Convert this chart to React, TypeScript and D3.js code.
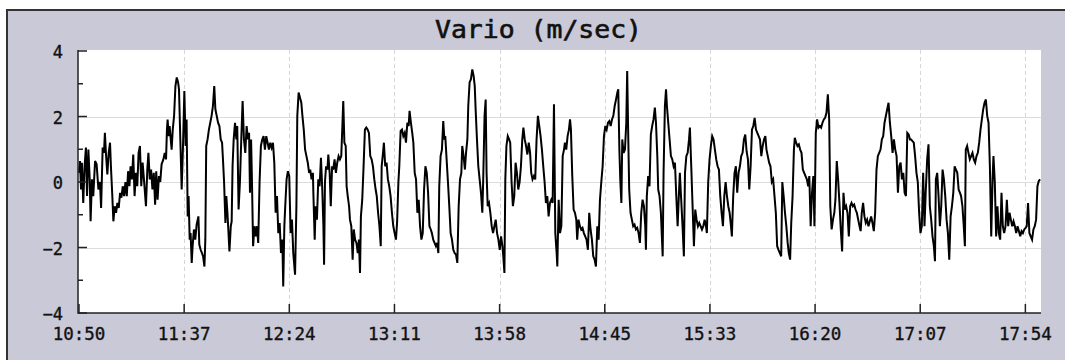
import React, { useEffect, useRef } from "react";
import * as d3 from "d3";

// tick labels on the time axis, 10:50 .. 17:54 (uniform step)
const timeLabels = ["10:50", "11:37", "12:24", "13:11", "13:58", "14:45", "15:33", "16:20", "17:07", "17:54"];
const timeSpan = 431; // minutes shown after 10:50
const lastTick = 424; // 17:54
const yMajor = [-4, -2, 0, 2, 4];
const yMinor = [-3, -1, 1, 3];
const yGrid = [-2, 0, 2];

// vario trace: [minutes after 10:50, m/s]
const trace: [number, number][] = [
  [0.0, 0.28], [0.45, 0.64], [0.9, -0.23], [1.3, 0.59], [1.9, -0.64], [2.5, 0.48], [3.1, 1.05], [3.6, -0.43],
  [4.2, 0.99], [4.8, 0.08], [5.2, -1.2], [5.8, 0.08], [6.4, -0.43], [7.2, 0.64], [7.9, 0.54], [8.7, -0.23],
  [9.4, 0], [9.9, -0.79], [10.6, 1.05], [11.2, 0.89], [11.6, 1.5], [12.1, 0.84], [12.7, 0.23], [13.3, 0.89],
  [13.9, 1.2], [14.3, 0.48], [14.9, -0.38], [15.4, -1.2], [16.0, -0.74], [16.6, -0.94], [17.2, -0.64], [17.8, -0.79],
  [18.4, -0.33], [19.0, -0.48], [19.6, -0.13], [20.2, -0.43], [20.8, 0], [21.4, -0.43], [22.0, 0.33], [22.6, -0.13],
  [23.1, 0.48], [23.7, 0.08], [24.3, 0.84], [24.9, -0.43], [25.5, 0.28], [26.1, -0.13], [26.7, 0.89], [27.3, 1.1],
  [27.9, -0.13], [28.5, 0.59], [29.1, 0.08], [30.0, -0.74], [30.6, 0.38], [31.1, 0.89], [31.7, 0.08], [32.3, 0.38],
  [32.9, -0.23], [33.5, 0.28], [34.1, -0.69], [34.6, 0.33], [35.2, -0.54], [35.8, 0.18], [36.4, 0], [37.0, 0.54],
  [37.8, 0.69], [38.4, 0.89], [39.0, 0.69], [39.4, 1.6], [39.7, 1.91], [40.2, 1.4], [40.6, 1.71], [41.1, 1.3],
  [41.5, 0.99], [42.0, 1.6], [42.6, 2.02], [43.2, 2.93], [43.8, 3.19], [44.4, 3.04], [44.8, 2.83], [45.4, 1.3],
  [46.0, -0.23], [46.6, 1.1], [47.2, 2.78], [47.8, 1.1], [48.2, 1.91], [48.7, -1.05], [49.1, -0.43], [49.6, -1.76],
  [50.0, -1.56], [50.5, -2.47], [50.9, -1.96], [51.5, -1.45], [52.1, -1.76], [52.7, -1.3], [53.5, -1.05], [53.9, -1.91],
  [54.5, -2.07], [55.1, -2.17], [55.6, -2.27], [56.2, -2.58], [56.6, -1.76], [57.0, 1.1], [57.6, 1.3], [58.2, 1.6],
  [58.8, 1.81], [59.4, 2.02], [60.0, 2.32], [60.6, 2.93], [61.1, 2.22], [61.7, 2.02], [62.3, 1.81], [62.9, 1.71],
  [63.5, 1.3], [64.1, 1.2], [64.5, 0.69], [65.0, 0], [65.6, -1.25], [66.0, -0.43], [66.5, -0.94], [66.9, -1.45],
  [67.4, -2.12], [68.0, -1.35], [68.4, -1.2], [68.8, 0.48], [69.3, 1.3], [69.9, 1.81], [70.5, 1.3], [70.9, 1.71],
  [71.5, -0.84], [72.1, 0], [72.7, 1.3], [73.3, 2.47], [73.9, 1.3], [74.5, 0.89], [75.1, 1.71], [75.7, 1.3],
  [76.2, 1.5], [76.6, -0.33], [77.1, 1.3], [77.5, 0], [78.0, -1.96], [78.6, -1.35], [79.2, -1.66], [79.7, -1.35],
  [80.3, -1.86], [80.9, 0], [81.5, 1.1], [82.1, 1.3], [82.7, 1.4], [83.3, 0.99], [83.9, 1.4], [84.5, 1.2],
  [85.1, 0.99], [85.7, 1.2], [86.3, 1.05], [86.9, 1.2], [87.5, 0.59], [88.1, -0.94], [88.7, -0.43], [89.3, -1.56],
  [89.9, -1.25], [90.5, -2.17], [91.1, -1.76], [91.5, -3.19], [92.0, -1.35], [92.4, -0.74], [93.0, 0.08], [93.6, 0.33],
  [94.2, 0.18], [94.8, -1.56], [95.4, -1.15], [96.0, -2.17], [96.8, -2.83], [97.4, -0.74], [97.8, 2.02], [98.4, 2.73],
  [99.0, 2.58], [99.6, 2.42], [100.1, 2.02], [100.7, 1.6], [101.3, 0.99], [101.9, 0.79], [102.5, 0.59], [103.1, 0.28],
  [103.6, 0.38], [104.2, 0.08], [104.8, 0.28], [105.0, -0.33], [105.6, -1.76], [106.0, -0.74], [106.6, -1.15], [107.2, 0.08],
  [107.8, -0.13], [108.4, 0.74], [109.0, -0.23], [109.5, -1.35], [109.8, -2.53], [110.2, 0], [110.7, 0.48], [111.3, 0.38],
  [111.7, 0.84], [112.3, 0.28], [112.8, -0.74], [113.4, 0.48], [113.9, 0.38], [114.5, 0.69], [115.1, 0.28], [115.7, 0.59],
  [116.3, 0.79], [116.9, 0.69], [117.5, 0.79], [118.0, 1.71], [118.4, 2.47], [118.9, 1.2], [119.5, 1.1], [119.9, -0.13],
  [120.4, -0.43], [121.0, -0.74], [121.4, -1.15], [122.0, -1.35], [122.6, -2.37], [123.1, -1.45], [123.7, -1.76], [124.3, -1.86],
  [124.9, -2.17], [125.4, -1.76], [125.9, -2.78], [126.3, -1.05], [126.9, -0.54], [127.5, 0.48], [128.1, 1.6], [128.7, 1.66],
  [129.3, 1.6], [129.9, 1.5], [130.5, 0.79], [131.1, 0.69], [131.7, 0.48], [132.3, 0.08], [132.9, -0.23], [133.4, -0.43],
  [134.0, -0.94], [134.6, -1.35], [135.2, -1.96], [135.6, 0.48], [136.2, 0.89], [136.6, 1.2], [137.2, 0.48], [137.8, 0.59],
  [138.4, 0.08], [139.0, -0.13], [139.6, -0.43], [140.2, -0.94], [140.8, -1.35], [141.4, -1.56], [142.0, -1.76], [142.5, -1.25],
  [143.1, 0], [143.5, 0.48], [144.1, 1.56], [144.7, 1.6], [145.3, 1.4], [145.9, 1.5], [146.5, 1.2], [147.1, 1.81],
  [147.7, 1.71], [148.1, 2.17], [148.7, 1.81], [149.3, 1.5], [149.8, 1.2], [150.4, 0.28], [151.0, 0.08], [151.6, -0.94],
  [152.2, -0.54], [152.8, -1.35], [153.4, -1.76], [154.0, -1.56], [154.6, -0.23], [155.2, 0.48], [155.8, 0.28], [156.4, -0.33],
  [157.0, -1.35], [157.6, -1.45], [158.1, -1.56], [158.7, -1.76], [159.3, -1.86], [159.9, -1.96], [160.5, -1.86], [161.0, -2.17],
  [161.4, -0.13], [162.0, 0.79], [162.6, 0.99], [163.2, 1.86], [163.7, 1.3], [164.1, 1.4], [164.7, 0.69], [165.3, 0],
  [165.9, -0.74], [166.5, -1.56], [167.1, -1.76], [167.7, -2.07], [168.3, -2.17], [168.9, -2.22], [169.5, -2.47], [170.1, -0.74],
  [170.7, 0.08], [171.3, 0.28], [171.7, 1.1], [172.3, 0.79], [172.9, 0.38], [173.4, 0.89], [174.0, 1.3], [174.4, 2.32],
  [175.0, 3.04], [175.6, 3.14], [176.2, 3.44], [176.8, 3.24], [177.3, 2.93], [177.7, 2.22], [178.3, 1.3], [178.9, 0.48],
  [179.5, 0.08], [180.1, -0.33], [180.7, -0.94], [181.1, 0.08], [181.7, 2.02], [182.2, 2.52], [182.6, 0.28], [183.1, -0.74],
  [183.7, -0.64], [184.3, -0.94], [184.9, -1.35], [185.5, -1.56], [186.1, -1.35], [186.7, -1.15], [187.3, -1.56], [187.9, -1.76],
  [188.5, -2.07], [189.1, -1.66], [189.7, -1.96], [190.1, -2.27], [190.6, -2.78], [191.0, 0.08], [191.5, 1.1], [192.1, 1.4],
  [192.7, 1.3], [193.2, 1.2], [193.8, 0], [194.4, -0.74], [195.0, -0.43], [195.6, 0.59], [196.2, 0.28], [196.8, -0.23],
  [197.4, 0], [198.0, 0.48], [198.6, 1.3], [199.1, 1.66], [199.7, 1.3], [200.3, 1.1], [200.9, 0.84], [201.5, 1.2],
  [202.1, 0.89], [202.6, 0.28], [203.2, 0.08], [203.8, 0.18], [204.4, 0.08], [205.0, 1.3], [205.6, 2.02], [206.2, 1.71],
  [206.8, 1.4], [207.4, 0.99], [208.0, 0.48], [208.6, 0], [209.2, -0.64], [209.8, -0.43], [210.4, -1.05], [211.0, -0.64],
  [211.6, -0.54], [212.2, -0.64], [212.8, 2.37], [213.4, -1.56], [214.0, -2.17], [214.3, -2.58], [214.9, -0.54], [215.5, -1.56],
  [216.1, -1.35], [216.7, 0.79], [217.3, 0.99], [217.7, 1.2], [218.3, 0.99], [218.9, 1.4], [219.5, 1.6], [220.0, 1.91],
  [220.4, 1.6], [221.0, 0.18], [221.6, -0.84], [222.2, -0.94], [222.8, -1.15], [223.2, -1.76], [223.8, -1.15], [224.4, -1.35],
  [225.0, -1.45], [225.6, -1.4], [226.2, -1.56], [226.8, -1.66], [227.4, -1.76], [228.0, -2.07], [228.6, -0.94], [229.2, -1.45],
  [229.8, -1.76], [230.4, -2.27], [231.0, -2.37], [231.6, -2.58], [232.2, -1.35], [232.8, -1.76], [233.4, -0.54], [234.0, 0],
  [234.6, 0.48], [235.2, 1.4], [235.8, 1.71], [236.4, 1.6], [237.0, 1.81], [237.6, 1.86], [238.2, 1.71], [238.8, 1.91],
  [239.4, 2.02], [240.0, 2.32], [240.6, 2.52], [241.2, 2.73], [241.6, 2.83], [242.1, 0.99], [242.5, 0.08], [243.0, -0.64],
  [243.4, 1.3], [244.0, 0.89], [244.6, 0.99], [245.2, 1.81], [245.6, 3.39], [246.1, 1.3], [246.5, -0.23], [247.1, -0.94],
  [247.7, -1.15], [248.3, -1.35], [248.9, -1.3], [249.5, -1.45], [250.1, -1.4], [250.7, -1.56], [251.3, -1.86], [251.9, -0.94],
  [252.5, -0.54], [253.1, -0.74], [253.7, -1.35], [254.0, -2.07], [254.4, -0.43], [255.0, 0.18], [255.6, -0.13], [256.2, 1.45],
  [256.8, 1.71], [257.4, 1.91], [258.0, 2.27], [258.5, 1.81], [259.1, 0.79], [259.5, -0.23], [260.1, -0.43], [260.7, -0.94],
  [261.5, -2.27], [261.9, 0.28], [262.5, 2.32], [263.0, 2.83], [263.4, 2.32], [264.0, 1.81], [264.6, 1.3], [265.2, 0.79],
  [265.8, 0.69], [266.4, 0.48], [267.0, 0.59], [267.6, -0.43], [268.2, -1.35], [268.8, -0.33], [269.2, 0.28], [269.8, -0.54],
  [270.4, -1.35], [271.0, -2.27], [271.5, 0.28], [272.1, 0.79], [272.7, 0.89], [273.3, 1.3], [273.7, 1.66], [274.3, 0.48],
  [274.9, -0.74], [275.5, -1.96], [276.1, -0.84], [276.7, -1.15], [277.3, -1.35], [277.9, -1.25], [278.5, -1.35], [279.1, -1.45],
  [279.7, -1.35], [280.3, -1.15], [280.9, -1.35], [281.3, -1.56], [281.9, 0], [282.5, 0.69], [283.1, 1.1], [283.7, 1.4],
  [284.3, 1.3], [284.9, 0.99], [285.5, 0.69], [286.1, 0.48], [286.7, 0.38], [287.3, -0.43], [287.9, -0.94], [288.5, -1.35],
  [289.1, -0.43], [289.7, 0], [290.3, -0.43], [290.9, -0.74], [291.5, -0.94], [292.1, -1.35], [292.5, -1.66], [293.1, -0.43],
  [293.7, 0.28], [294.3, 0.48], [294.9, -0.33], [295.5, 0.28], [296.1, 0.48], [296.7, 0.79], [297.3, 0.89], [297.9, 1.3],
  [298.5, 1.45], [299.1, 0.94], [299.7, 0.69], [300.3, -0.23], [300.9, 0.48], [301.5, 1.6], [302.1, 1.71], [302.7, 1.96],
  [303.3, 1.6], [303.9, 1.5], [304.5, 1.4], [305.1, 1.3], [305.7, 0.79], [306.3, 1.1], [306.9, 1.3], [307.5, 1.4],
  [308.0, 0.99], [308.6, 0.79], [309.2, 0.59], [309.8, 0.48], [310.4, 0], [311.0, 0.08], [311.6, -0.43], [312.2, -0.94],
  [312.8, -1.96], [313.4, -2.07], [314.0, -2.17], [314.6, -2.27], [315.1, 0], [315.7, -0.43], [316.3, -0.94], [316.9, -1.35],
  [317.5, -1.86], [318.0, -2.17], [318.6, -2.37], [319.1, -1.25], [319.7, -0.43], [320.3, 0.99], [320.7, 1.35], [321.3, 1.2],
  [321.9, 1.1], [322.5, 1.15], [323.1, 0.99], [323.7, 0.89], [324.3, 0.38], [324.9, 0.28], [325.5, 0.18], [326.1, 0.08],
  [326.7, -0.13], [327.2, 0.18], [327.8, -1.35], [328.4, -0.33], [329.0, 0.18], [329.5, -1.35], [330.1, 1.5], [330.7, 1.91],
  [331.3, 1.66], [331.9, 1.71], [332.5, 1.66], [333.1, 1.81], [333.7, 1.91], [334.3, 1.96], [334.9, 2.12], [335.5, 2.68],
  [336.1, 1.91], [336.6, -0.74], [337.2, -1.45], [337.8, -1.15], [338.4, -0.94], [338.9, -0.54], [339.5, 0.64], [340.1, 0.08],
  [340.7, -0.64], [341.3, -1.45], [341.9, -2.12], [342.5, -0.33], [343.1, -0.84], [343.7, -0.74], [344.3, -0.94], [344.9, -1.66],
  [345.5, -0.74], [346.1, -0.64], [346.7, -0.74], [347.3, -0.69], [347.9, -0.84], [348.5, -0.94], [349.1, -1.15], [349.7, -1.35],
  [350.2, -1.5], [350.7, -0.94], [351.3, -0.64], [351.9, -1.05], [352.5, -1.25], [353.1, -1.15], [353.7, -1.35], [354.3, -1.2],
  [354.9, -1.05], [355.5, -1.25], [356.1, -1.5], [356.7, -0.94], [357.3, 0.38], [357.9, 0.79], [358.5, 0.89], [359.1, 0.99],
  [359.7, 1.3], [360.3, 1.4], [360.9, 1.81], [361.5, 2.02], [362.1, 2.22], [362.7, 2.42], [363.3, 1.81], [363.9, 1.4],
  [364.5, 0.89], [365.1, 1.3], [365.7, 0.99], [366.3, 0.79], [366.9, -0.33], [367.5, 0.48], [368.1, 0.59], [368.7, 0.08],
  [369.3, 0.28], [369.9, -0.33], [370.5, -0.43], [371.1, 1.5], [371.7, 1.45], [372.3, 1.3], [372.8, 1.3], [373.4, 1.25],
  [374.0, 1.2], [374.6, 0.79], [375.2, 0.28], [375.8, 0], [376.4, -0.94], [377.0, -1.56], [377.6, -1.35], [378.2, 0.28],
  [378.8, -1.35], [379.4, -0.23], [380.0, 0.69], [380.6, 1.15], [381.2, -0.74], [381.8, -1.15], [382.4, -1.66], [383.0, -1.96],
  [383.5, -2.42], [383.9, 0.08], [384.5, 0.28], [385.1, -0.43], [385.7, -1.35], [386.3, -0.74], [386.9, 0.38], [387.5, 0.08],
  [388.1, -0.43], [388.7, -1.15], [389.3, -1.56], [389.9, -2.37], [390.5, -1.05], [391.1, -0.74], [391.7, -0.33], [392.3, 0.48],
  [392.9, 0.38], [393.5, 0.28], [394.1, -0.23], [394.7, -0.33], [395.2, -0.43], [395.8, -0.74], [396.4, -1.35], [396.9, -1.96],
  [397.3, 0.99], [397.9, 1.1], [398.5, 0.89], [399.1, 0.69], [399.7, 0.79], [400.3, 0.89], [400.9, 0.69], [401.5, 0.59],
  [402.1, 0.79], [402.7, 0.89], [403.3, 1.2], [403.9, 1.6], [404.5, 1.91], [405.1, 2.22], [405.7, 2.42], [406.3, 2.52],
  [406.9, 2.02], [407.5, 1.81], [408.1, 0.48], [408.7, -1.66], [409.3, 0.08], [409.7, 0.79], [410.3, 0], [410.9, -1.66],
  [411.5, -0.74], [412.1, -1.56], [412.7, -1.76], [413.3, -0.33], [413.9, -1.35], [414.5, -1.56], [415.1, -1.35], [415.7, -0.54],
  [416.3, -1.35], [416.9, -0.94], [417.5, -1.15], [418.1, -1.35], [418.7, -1.2], [419.3, -1.35], [419.9, -1.56], [420.5, -1.35],
  [421.1, -1.5], [421.7, -1.66], [422.3, -1.5], [422.9, -1.56], [423.5, -1.45], [424.1, -1.4], [424.6, -1.35], [425.2, -0.64],
  [425.8, -1.56], [426.4, -1.66], [427.0, -1.76], [427.6, -1.45], [428.2, -1.35], [428.8, -1.15], [429.4, -0.13], [430.0, 0.03],
  [430.6, 0.08],
];

const W = 1065;
const H = 360;
const plot = { left: 78, right: 1041, top: 50, bottom: 313 };
const font = "'DejaVu Sans Mono', monospace";

export default function App() {
  const ref = useRef<SVGSVGElement>(null);

  useEffect(() => {
    if (!ref.current) return;
    const svg = d3.select(ref.current);
    svg.selectAll("*").remove();

    const x = d3.scaleLinear().domain([0, timeSpan]).range([plot.left + 1, plot.right]);
    const y = d3.scaleLinear().domain([-4, 4]).range([plot.bottom, plot.top + 1]);

    // frame
    svg.append("rect").attr("width", W).attr("height", H).attr("fill", "#fff");
    svg
      .append("rect")
      .attr("x", 7)
      .attr("y", 10)
      .attr("width", W + 10)
      .attr("height", H + 10)
      .attr("fill", "#c9c9d7")
      .attr("stroke", "#333")
      .attr("stroke-width", 2);

    svg
      .append("rect")
      .attr("x", plot.left)
      .attr("y", plot.top)
      .attr("width", plot.right - plot.left)
      .attr("height", plot.bottom - plot.top)
      .attr("fill", "#fff");

    svg
      .append("text")
      .attr("x", (435 + 642) / 2)
      .attr("y", 38)
      .attr("text-anchor", "middle")
      .attr("font-family", font)
      .attr("font-size", 24)
      .attr("textLength", 207)
      .attr("lengthAdjust", "spacingAndGlyphs")
      .attr("fill", "#111")
      .attr("stroke", "#111")
      .attr("stroke-width", 0.6)
      .text("Vario (m/sec)");

    const tickPos = timeLabels.map((_, i) => (i * lastTick) / (timeLabels.length - 1));

    // grid
    svg
      .append("g")
      .selectAll("line")
      .data(yGrid)
      .join("line")
      .attr("x1", plot.left)
      .attr("x2", plot.right)
      .attr("y1", (d) => Math.round(y(d)) + 0.5)
      .attr("y2", (d) => Math.round(y(d)) + 0.5)
      .attr("stroke", "#dcdcdc")
      .attr("stroke-width", 1);

    svg
      .append("g")
      .selectAll("line")
      .data(tickPos.slice(1))
      .join("line")
      .attr("x1", (d) => Math.round(x(d)) + 0.5)
      .attr("x2", (d) => Math.round(x(d)) + 0.5)
      .attr("y1", plot.top)
      .attr("y2", plot.bottom)
      .attr("stroke", "#d6d6d6")
      .attr("stroke-dasharray", "4,3");

    // trace
    const line = d3
      .line<[number, number]>()
      .x((d) => x(d[0]))
      .y((d) => y(d[1]));

    svg
      .append("path")
      .datum(trace)
      .attr("d", line)
      .attr("fill", "none")
      .attr("stroke", "#000")
      .attr("stroke-width", 2)
      .attr("stroke-linejoin", "miter");

    // axes
    const axis = svg.append("g").attr("stroke", "#222").attr("stroke-width", 1.5);
    axis.append("line").attr("x1", plot.left).attr("x2", plot.left).attr("y1", plot.top).attr("y2", plot.bottom + 0.75);
    axis.append("line").attr("x1", plot.left).attr("x2", plot.right).attr("y1", plot.bottom).attr("y2", plot.bottom);

    axis
      .selectAll("line.ymaj")
      .data(yMajor)
      .join("line")
      .attr("class", "ymaj")
      .attr("x1", plot.left)
      .attr("x2", plot.left + 9)
      .attr("y1", (d) => y(d))
      .attr("y2", (d) => y(d));

    axis
      .selectAll("line.ymin")
      .data(yMinor)
      .join("line")
      .attr("class", "ymin")
      .attr("x1", plot.left)
      .attr("x2", plot.left + 5)
      .attr("y1", (d) => y(d))
      .attr("y2", (d) => y(d));

    axis
      .selectAll("line.xt")
      .data(tickPos)
      .join("line")
      .attr("class", "xt")
      .attr("x1", (d) => x(d))
      .attr("x2", (d) => x(d))
      .attr("y1", plot.bottom)
      .attr("y2", plot.bottom - 9);

    svg
      .append("g")
      .selectAll("text")
      .data(yMajor)
      .join("text")
      .attr("x", 63)
      .attr("y", (d) => y(d) + 7)
      .attr("text-anchor", "end")
      .attr("font-family", font)
      .attr("font-size", 17)
      .attr("fill", "#111")
      .attr("stroke", "#111")
      .attr("stroke-width", 0.35)
      .text((d) => (d < 0 ? "\u2212" + Math.abs(d) : String(d)));

    svg
      .append("g")
      .selectAll("text")
      .data(timeLabels)
      .join("text")
      .attr("x", (_, i) => x(tickPos[i]))
      .attr("y", 340)
      .attr("text-anchor", "middle")
      .attr("font-family", font)
      .attr("font-size", 17.5)
      .attr("fill", "#111")
      .attr("stroke", "#111")
      .attr("stroke-width", 0.35)
      .text((d) => d);
  }, []);

  return (
    <svg
      ref={ref}
      width={W}
      height={H}
      style={{ position: "absolute", left: 0, top: 0, display: "block" }}
    />
  );
}
